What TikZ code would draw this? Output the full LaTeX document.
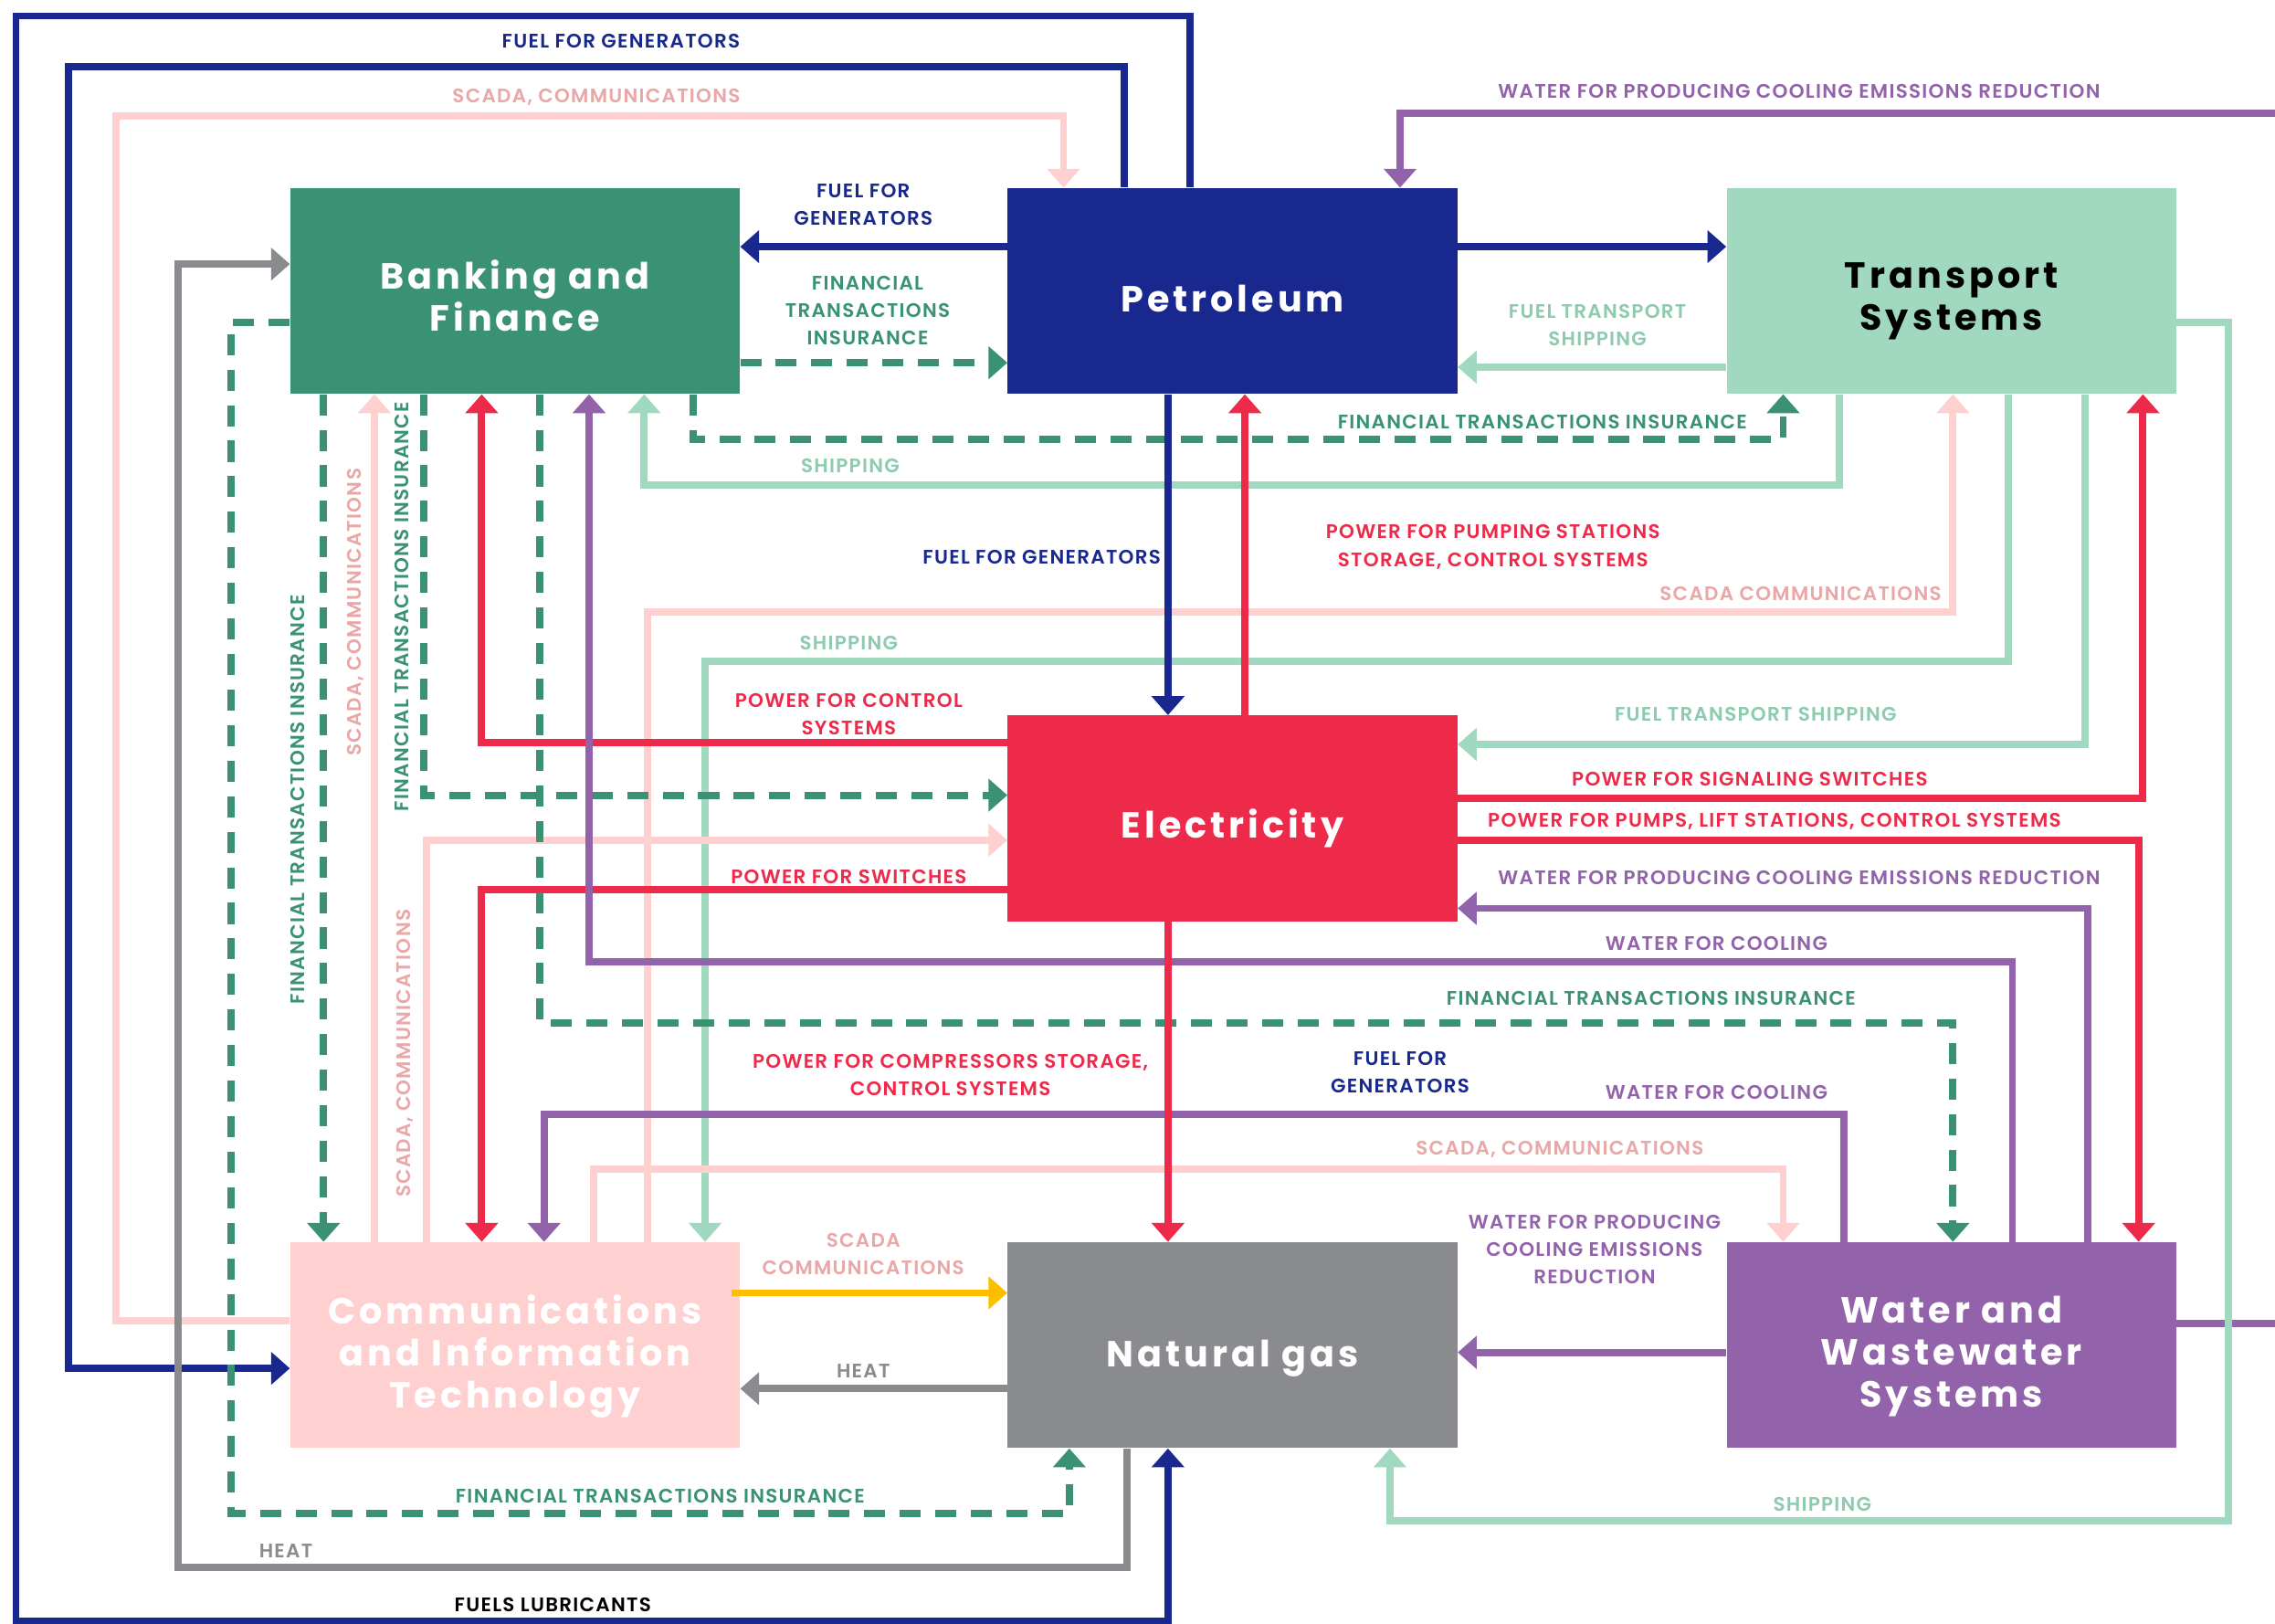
\documentclass[tikz,border=0pt]{standalone}
\usepackage{fontspec}
\setmainfont{Poppins}
\newfontfamily\lblfont{Poppins SemiBold}[LetterSpace=6]
\newfontfamily\boxfont{Poppins}[LetterSpace=10]
\usetikzlibrary{arrows.meta}

\definecolor{cbank}{HTML}{3A9174}
\definecolor{cnavy}{HTML}{18288E}
\definecolor{cmint}{HTML}{A0D9C0}
\definecolor{cminttxt}{HTML}{8CCBAE}
\definecolor{cred}{HTML}{EE2A4B}
\definecolor{cpink}{HTML}{FFD0D0}
\definecolor{cpinktxt}{HTML}{E9A7A7}
\definecolor{cgray}{HTML}{8A8B8E}
\definecolor{cpurple}{HTML}{9263AA}
\definecolor{cyellow}{HTML}{FDBE00}

\tikzset{
  box/.style={minimum width=310pt, minimum height=142pt, inner sep=0pt},
  boxtext/.style={font=\boxfont\bfseries\fontsize{25}{29}\selectfont,
    align=center, text=white, inner sep=0pt},
  link/.style={line width=5pt, -{Triangle[length=13pt,width=22pt]}},
  fin/.style={link, cbank, dash pattern=on 14.5pt off 10pt},
  lbl/.style={font=\lblfont\fontsize{13.5}{19}\selectfont, align=center, inner sep=0pt},
}

\begin{document}
\begin{tikzpicture}[x=1pt, y=-1pt]
\useasboundingbox (0,0) rectangle (1568,1119);
\clip (0,0) rectangle (1568,1119);
\fill[white] (0,0) rectangle (1568,1119);

% sectors
\node[box, fill=cbank, label={[boxtext, yshift=-3pt]center:Banking and\\Finance}] (bank) at (355,200.5) {};
\node[box, fill=cnavy, label={[boxtext, yshift=-5pt]center:Petroleum}] (pet) at (849.5,200.5) {};
\node[box, fill=cmint, label={[boxtext, text=black, yshift=-7pt]center:Transport\\Systems}] (trans) at (1345,200.5) {};
\node[box, fill=cred, label={[boxtext, yshift=-7pt]center:Electricity}] (elec) at (849.5,564) {};
\node[box, fill=cpink, label={[boxtext, yshift=-8pt]center:Communications\\and Information\\Technology}] (comm) at (355,927) {};
\node[box, fill=cgray, label={[boxtext, yshift=-9pt]center:Natural gas}] (gas) at (849.5,927) {};
\node[box, fill=cpurple, label={[boxtext, yshift=-8pt]center:Water and\\Wastewater\\Systems}] (water) at (1345,927) {};

% outer loops
\draw[link, cpurple] (water.east |- 0,912) -- (1590,912) |- (965,78) -- (pet.north -| 965,0);
\draw[link, cnavy] (pet.north -| 820,0) |- (11,11) |- (805,1117) -- (gas.south -| 805,0);
\draw[link, cnavy] (pet.north -| 775,0) |- (47,46) |- (comm.west |- 0,943);
\draw[link, cpink] (comm.west |- 0,910) -| (80,80) -| (pet.north -| 733,0);
\draw[link, cgray] (gas.south -| 777,0) |- (123,1080) |- (bank.west |- 0,182);
\draw[fin] (bank.west |- 0,222) -| (159,1043) -| (gas.south -| 737,0);
\draw[link, cmint] (trans.east |- 0,222) -| (1536,1048) -| (gas.south -| 958,0);

% top row
\draw[link, cnavy] (pet.west |- 0,170) -- (bank.east |- 0,170);
\draw[fin] (bank.east |- 0,250) -- (pet.west |- 0,250);
\draw[link, cnavy] (pet.east |- 0,170) -- (trans.west |- 0,170);
\draw[link, cmint] (trans.west |- 0,253) -- (pet.east |- 0,253);

% long runs between top and bottom rows
\draw[fin] (bank.south -| 478,0) |- (1229,303) -- (trans.south -| 1229,0);
\draw[link, cmint] (trans.south -| 1268,0) |- (444,334) -- (bank.south -| 444,0);
\draw[link, cpink] (comm.north -| 446,0) |- (1346,422) -- (trans.south -| 1346,0);
\draw[link, cmint] (trans.south -| 1384,0) |- (486,456) -- (comm.north -| 486,0);
\draw[link, cred] (elec.west |- 0,512) -| (bank.south -| 332,0);
\draw[fin] (bank.south -| 292,0) |- (elec.west |- 0,548);
\draw[link, cmint] (trans.south -| 1437,0) |- (elec.east |- 0,513);
\draw[link, cred] (elec.east |- 0,550) -| (trans.south -| 1477,0);
\draw[link, cpink] (comm.north -| 294,0) |- (elec.west |- 0,579);
\draw[link, cred] (elec.east |- 0,579) -| (water.north -| 1474,0);
\draw[link, cred] (elec.west |- 0,613) -| (comm.north -| 332,0);
\draw[link, cpurple] (water.north -| 1439,0) |- (elec.east |- 0,626);
\draw[link, cpurple] (water.north -| 1387,0) |- (406,663) -- (bank.south -| 406,0);
\draw[fin] (bank.south -| 372,0) |- (1346,705) -- (water.north -| 1346,0);
\draw[link, cpurple] (water.north -| 1271,0) |- (375,768) -- (comm.north -| 375,0);
\draw[link, cpink] (comm.north -| 409,0) |- (1229,806) -- (water.north -| 1229,0);
\draw[fin] (bank.south -| 223,0) -- (comm.north -| 223,0);
\draw[link, cpink] (comm.north -| 258,0) -- (bank.south -| 258,0);

% centre column
\draw[link, cnavy] (pet.south -| 805,0) -- (elec.north -| 805,0);
\draw[link, cred] (elec.north -| 858,0) -- (pet.south -| 858,0);
\draw[link, cred] (elec.south -| 805,0) -- (gas.north -| 805,0);

% bottom row
\draw[link, cyellow] ([xshift=-6pt]comm.east |- 0,891) -- (gas.west |- 0,891);
\draw[link, cgray] (gas.west |- 0,957) -- (comm.east |- 0,957);
\draw[link, cpurple] (water.west |- 0,932) -- (gas.east |- 0,932);

% labels
\node[lbl, text=cnavy] (l1) at (428,28) {FUEL FOR GENERATORS};
\node[lbl, text=cpinktxt] (l2) at (411,67) {SCADA, COMMUNICATIONS};
\node[lbl, text=cpurple] (l3) at (1240,63) {WATER FOR PRODUCING COOLING EMISSIONS REDUCTION};
\node[lbl, text=cnavy] (l4) at (595,141) {FUEL FOR\\GENERATORS};
\node[lbl, text=cbank] (l5) at (598,214) {FINANCIAL\\TRANSACTIONS\\INSURANCE};
\node[lbl, text=cminttxt] (l6) at (1101,224) {FUEL TRANSPORT\\SHIPPING};
\node[lbl, text=cbank] (l7) at (1063,291) {FINANCIAL TRANSACTIONS INSURANCE};
\node[lbl, text=cminttxt] (l8) at (586,321) {SHIPPING};
\node[lbl, text=cred] (l9) at (1029,377) {POWER FOR PUMPING STATIONS\\STORAGE, CONTROL SYSTEMS};
\node[lbl, text=cnavy] (l10) at (718,384) {FUEL FOR GENERATORS};
\node[lbl, text=cpinktxt] (l11) at (1241,409) {SCADA COMMUNICATIONS};
\node[lbl, text=cminttxt] (l12) at (585,443) {SHIPPING};
\node[lbl, text=cred] (l13) at (585,492) {POWER FOR CONTROL\\SYSTEMS};
\node[lbl, text=cminttxt] (l14) at (1210,492) {FUEL TRANSPORT SHIPPING};
\node[lbl, text=cred] (l15) at (1206,537) {POWER FOR SIGNALING SWITCHES};
\node[lbl, text=cred] (l16) at (1223,566) {POWER FOR PUMPS, LIFT STATIONS, CONTROL SYSTEMS};
\node[lbl, text=cred] (l17) at (585,604) {POWER FOR SWITCHES};
\node[lbl, text=cpurple] (l18) at (1240,605) {WATER FOR PRODUCING COOLING EMISSIONS REDUCTION};
\node[lbl, text=cpurple] (l19) at (1183,650) {WATER FOR COOLING};
\node[lbl, text=cbank] (l20) at (1138,688) {FINANCIAL TRANSACTIONS INSURANCE};
\node[lbl, text=cred] (l21) at (655,741) {POWER FOR COMPRESSORS STORAGE,\\CONTROL SYSTEMS};
\node[lbl, text=cnavy] (l22) at (965,739) {FUEL FOR\\GENERATORS};
\node[lbl, text=cpurple] (l23) at (1183,753) {WATER FOR COOLING};
\node[lbl, text=cpinktxt] (l24) at (1075,792) {SCADA, COMMUNICATIONS};
\node[lbl, text=cpurple] (l25) at (1099,861) {WATER FOR PRODUCING\\COOLING EMISSIONS\\REDUCTION};
\node[lbl, text=cpinktxt] (l26) at (595,864) {SCADA\\COMMUNICATIONS};
\node[lbl, text=cgray] (l27) at (595,945) {HEAT};
\node[lbl, text=cbank] (l28) at (455,1031) {FINANCIAL TRANSACTIONS INSURANCE};
\node[lbl, text=cgray] (l29) at (197,1069) {HEAT};
\node[lbl, text=black] (l30) at (381,1106) {FUELS LUBRICANTS};
\node[lbl, text=cminttxt] (l31) at (1256,1037) {SHIPPING};
\node[lbl, text=cbank, rotate=90] (l32) at (205,551) {FINANCIAL TRANSACTIONS INSURANCE};
\node[lbl, text=cpinktxt, rotate=90] (l33) at (245,422) {SCADA, COMMUNICATIONS};
\node[lbl, text=cbank, rotate=90] (l34) at (277,418) {FINANCIAL TRANSACTIONS INSURANCE};
\node[lbl, text=cpinktxt, rotate=90] (l35) at (279,726) {SCADA, COMMUNICATIONS};
\end{tikzpicture}
\end{document}
